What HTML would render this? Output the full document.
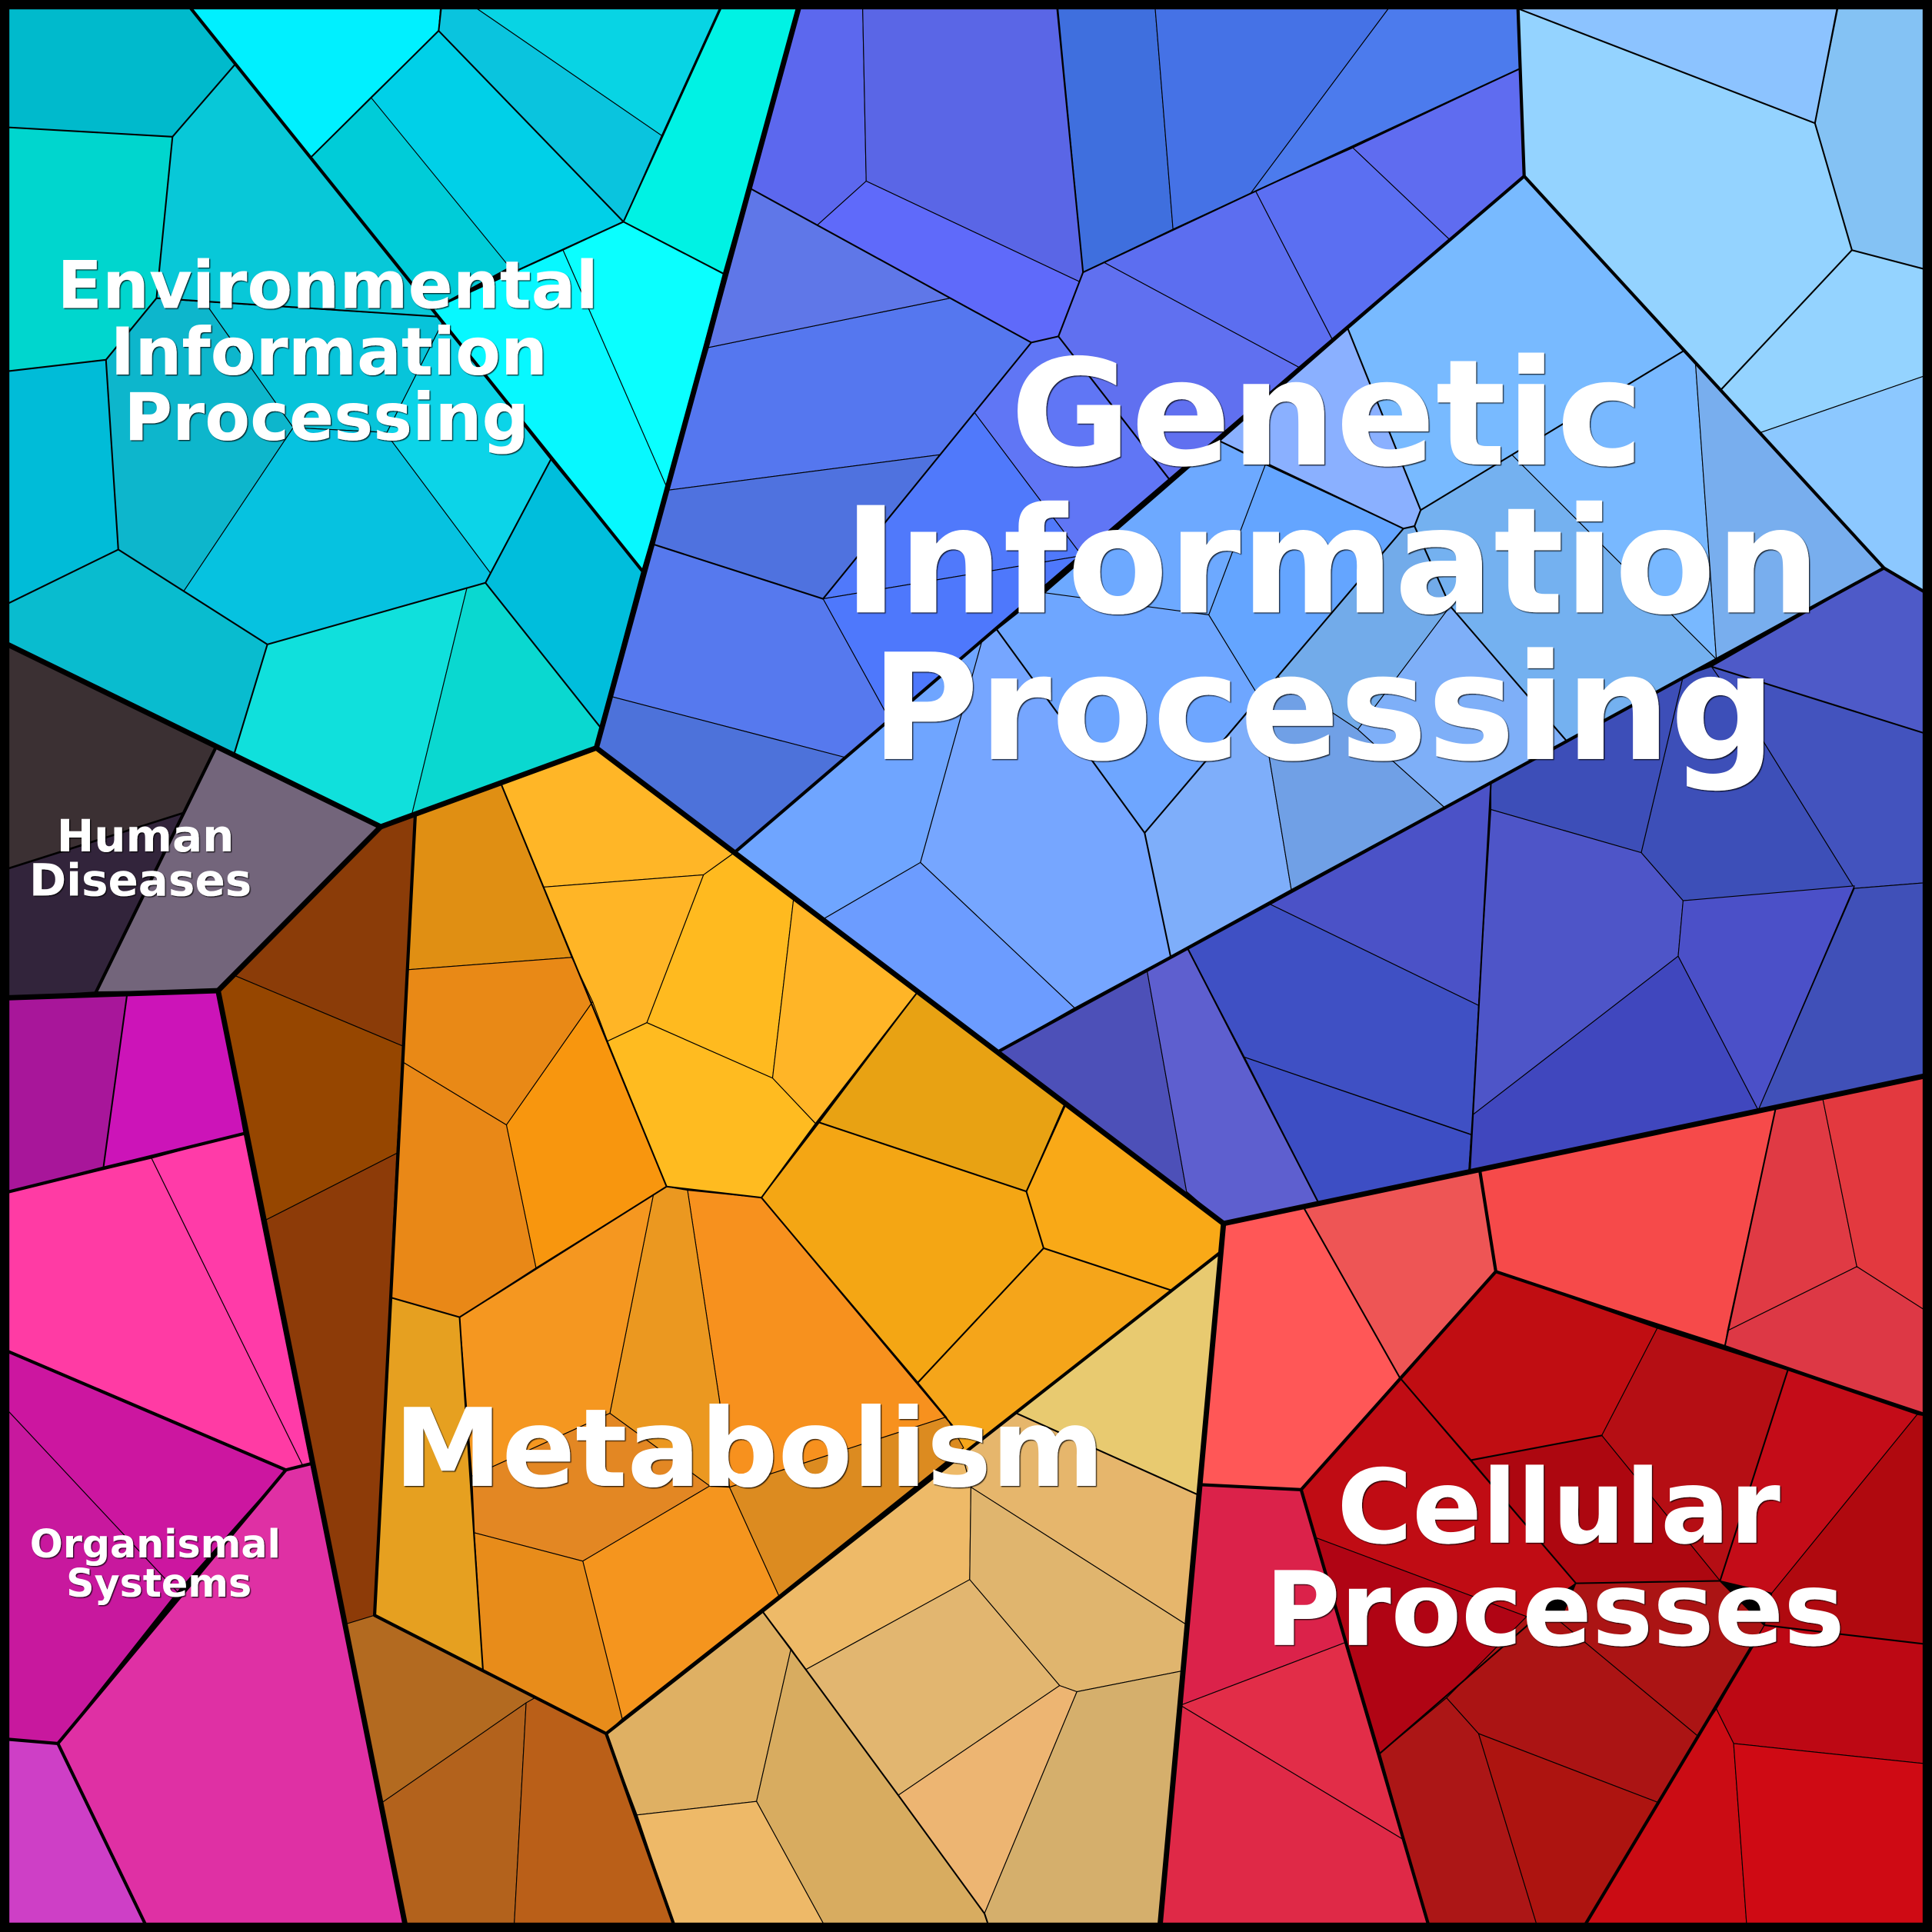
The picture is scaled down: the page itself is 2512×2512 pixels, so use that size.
<!DOCTYPE html>
<html><head><meta charset="utf-8"><style>
html,body{margin:0;padding:0;background:#000}
svg{display:block}
.c polygon{stroke:#000;stroke-width:.7;stroke-linejoin:round}
.m,.h,.f{fill:none;stroke:#000;stroke-linejoin:round;stroke-linecap:round}
.m polyline{stroke-width:1.3}
.h polyline{stroke-width:2.6}
.f polyline{stroke-width:4.3}
text{font-family:"DejaVu Sans","Liberation Sans",sans-serif;font-weight:bold;fill:#fff;text-anchor:middle}
</style></head><body>
<svg xmlns="http://www.w3.org/2000/svg" width="2512" height="2512" viewBox="0 0 1568 1568">
<defs><filter id="s" x="-5%" y="-5%" width="110%" height="110%"><feDropShadow dx="0.8" dy="0.8" stdDeviation="0.4" flood-color="#000" flood-opacity=".8"/></filter></defs>
<rect width="1568" height="1568" fill="#000"/>
<g class="c">
<!-- Env -->
<polygon fill="#00BACC" points="0,0 150,0 191,52 140,111 0,103"/>
<polygon fill="#00D6CE" points="0,103 140,111 127,242 86,292 0,302"/>
<polygon fill="#08C8D8" points="140,111 191,52 355.6,257 127,242"/>
<polygon fill="#00BCD8" points="0,302 86,292 96,446 0,493"/>
<polygon fill="#0DB6CC" points="86,292 127,242 166,245 238,347 149,480 96,446"/>
<polygon fill="#07C4DA" points="166,245 355.6,257 359,262 314,351 238,347"/>
<polygon fill="#06C2E0" points="238,347 314,351 318,358 398,465 394,473 217,523 149,480"/>
<polygon fill="#0CD4E8" points="359,262 447,373 398,465 318,358 314,351"/>
<polygon fill="#00BEDC" points="447,373 521,463 487,590 394,473"/>
<polygon fill="#09BCCF" points="0,493 96,446 217,523 190,612 0,520"/>
<polygon fill="#10E0DC" points="217,523 379,477 334,662 309,671 190,612"/>
<polygon fill="#0AD8D0" points="379,477 394,473 487,590 484,607 334,662"/>
<polygon fill="#00F0FF" points="150,0 358,0 356,25 252,128"/>
<polygon fill="#00CCD8" points="252,128 301,79 417,215 351,251"/>
<polygon fill="#00D0E8" points="301,79 356,25 506,180 417,221"/>
<polygon fill="#0AC4DE" points="356,25 358,0 377,0 537,110 506,180"/>
<polygon fill="#08D4E4" points="377,0 587,0 537,110"/>
<polygon fill="#00F2E4" points="587,0 650,0 587,222 506,180"/>
<polygon fill="#07F8FF" points="351,251 457,203 541,395 521,463"/>
<polygon fill="#0AFFFF" points="457,203 506,180 587,222 541,395"/>
<!-- Top right -->
<polygon fill="#8CC3FF" points="1232,0 1493,0 1473,100 1232,7"/>
<polygon fill="#84C2F4" points="1493,0 1568,0 1568,220 1503,203 1473,100"/>
<polygon fill="#94D3FF" points="1232,7 1473,100 1503,203 1397,316 1237,143"/>
<polygon fill="#94D3FF" points="1503,203 1568,220 1568,303 1429,351 1397,316"/>
<polygon fill="#8CC8FF" points="1429,351 1568,303 1568,484 1529,461"/>
<!-- Light -->
<polygon fill="#78BAFF" points="1237,143 1366,285 1153,414 1094,267"/>
<polygon fill="#8AB0FF" points="1094,267 1153,414 1148,427 1139,429 990,358"/>
<polygon fill="#64A5FF" points="1027,377 1139,429 1037,549 1022,566 981,499"/>
<polygon fill="#6DA9FF" points="990,358 1027,377 981,499 847,482"/>
<polygon fill="#6EA6FF" points="809,511 847,481 981,499 1022,566 929,676"/>
<polygon fill="#6FA5FF" points="596,692 797,520 747,700 668,746"/>
<polygon fill="#76A6FF" points="797,520 809,511 929,676 950,776 872,818 747,700"/>
<polygon fill="#6C9CFF" points="668,746 747,700 872,818 811,853 596,692"/>
<polygon fill="#7EAEFA" points="929,676 1022,566 1048,722 950,776"/>
<polygon fill="#70A0E6" points="1022,566 1037,549 1102,592 1172,655 1048,722"/>
<polygon fill="#72ABEA" points="1139,429 1148,427 1177,492 1102,592 1037,549"/>
<polygon fill="#7EAFF8" points="1177,492 1272,602 1172,655 1102,592"/>
<polygon fill="#74B1F0" points="1153,414 1227,369 1393,535 1272,602 1177,492 1148,427"/>
<polygon fill="#78B8FF" points="1227,369 1366,285 1376,294 1393,535"/>
<polygon fill="#78AEEE" points="1376,294 1529,461 1393,535"/>
<!-- Blue -->
<polygon fill="#5C68EE" points="648,0 700,0 703,147 663,183 609,153"/>
<polygon fill="#5A66E6" points="700,0 858,0 879,221 877,229 703,147"/>
<polygon fill="#5F6AFA" points="663,183 703,147 877,229 859,273 837,278"/>
<polygon fill="#3F6FDE" points="858,0 937,0 952,186 879,221"/>
<polygon fill="#4572E6" points="937,0 1132,0 1015,157 952,186"/>
<polygon fill="#4C7BED" points="1132,0 1232,0 1233,56 1015,157"/>
<polygon fill="#5F6CF0" points="1233,56 1237,143 1176,194 1098,120"/>
<polygon fill="#5B6FF2" points="1019,155 1098,120 1176,194 1081,275"/>
<polygon fill="#5C6EF0" points="879,221 952,186 1019,155 1081,275 1054,298 896,213"/>
<polygon fill="#6070F0" points="879,221 896,213 1054,298 949,389 859,273"/>
<polygon fill="#6076F5" points="837,278 859,273 949,389 878,451 791,335"/>
<polygon fill="#5079FB" points="791,335 878,451 668,486"/>
<polygon fill="#4E78FC" points="668,486 878,451 722,584"/>
<polygon fill="#5577EF" points="575,282 771,242 837,278 763,369 541,398"/>
<polygon fill="#5F77E8" points="609,153 837,278 771,242 575,282"/>
<polygon fill="#4F72DF" points="541,398 763,369 668,486 531,442"/>
<polygon fill="#5679EE" points="531,442 668,486 722,584 687,615 495,565"/>
<polygon fill="#4D72DA" points="495,565 687,615 596,692 484,607"/>
<!-- Dark blue -->
<polygon fill="#4E5AC8" points="1529,461 1568,484 1568,597 1389,541"/>
<polygon fill="#4353BE" points="1389,541 1568,597 1568,716 1505,721 1430,600"/>
<polygon fill="#3D4FB8" points="1366,549 1389,541 1430,600 1505,721 1366,731 1332,692"/>
<polygon fill="#3D4EB8" points="1210,636 1366,549 1332,692 1210,657"/>
<polygon fill="#4B52C7" points="1031,734 1210,636 1200,816"/>
<polygon fill="#3F50C4" points="964,770 1031,734 1200,816 1195,921 1010,858"/>
<polygon fill="#3D4EC4" points="1010,858 1194,921 1192,951 1070,976"/>
<polygon fill="#4E55C8" points="1210,657 1332,692 1366,731 1362,776 1195,905 1200,816"/>
<polygon fill="#4047BE" points="1195,905 1362,776 1427,901 1192,951"/>
<polygon fill="#4B50C8" points="1366,731 1505,719 1427,901 1362,776"/>
<polygon fill="#4050B8" points="1505,721 1568,716 1568,872 1427,901"/>
<polygon fill="#4D50B8" points="811,853 931,788 963,967 993,993"/>
<polygon fill="#5E5FCF" points="931,788 964,770 1070,976 993,993 963,967"/>
<!-- Cellular -->
<polygon fill="#FF5757" points="993,993 1058,980 1136,1118 1056,1209 975,1205"/>
<polygon fill="#EE5555" points="1058,980 1201,950 1214,1032 1136,1118"/>
<polygon fill="#F64A4A" points="1201,950 1441,900 1400,1092 1214,1032"/>
<polygon fill="#E03A44" points="1441,900 1479,890 1507,1028 1402,1080"/>
<polygon fill="#E3393F" points="1479,890 1568,872 1568,1067 1507,1028"/>
<polygon fill="#DD3845" points="1402,1080 1507,1028 1568,1067 1568,1150 1400,1092"/>
<polygon fill="#C00D12" points="1214,1032 1345,1078 1300,1165 1194,1185 1136,1118"/>
<polygon fill="#B50E14" points="1345,1078 1451,1112 1396,1283 1300,1165"/>
<polygon fill="#AD0710" points="1194,1185 1300,1165 1396,1283 1279,1285"/>
<polygon fill="#C00C14" points="1056,1209 1136,1118 1194,1185 1279,1285 1239,1312 1068,1248"/>
<polygon fill="#C40C18" points="1451,1112 1556,1148 1438,1293 1396,1283"/>
<polygon fill="#B0090F" points="1556,1148 1568,1150 1568,1335 1432,1319 1438,1293"/>
<polygon fill="#B00414" points="1068,1248 1239,1312 1174,1378 1120,1423"/>
<polygon fill="#AB1414" points="1279,1285 1396,1283 1432,1319 1422,1336 1378,1409 1266,1316"/>
<polygon fill="#AB1414" points="1239,1312 1266,1316 1378,1409 1346,1463 1200,1407 1174,1378"/>
<polygon fill="#AC1616" points="1174,1378 1200,1407 1249,1568 1161,1568 1120,1423"/>
<polygon fill="#AD1410" points="1200,1407 1346,1463 1283,1568 1249,1568"/>
<polygon fill="#BD0814" points="1422,1336 1432,1319 1568,1335 1568,1432 1407,1415 1393,1387"/>
<polygon fill="#CB0C14" points="1393,1387 1407,1415 1418,1568 1283,1568 1346,1463 1378,1409"/>
<polygon fill="#CF0A14" points="1407,1415 1568,1432 1568,1568 1418,1568"/>
<polygon fill="#DB224A" points="975,1205 1056,1209 1092,1333 958,1384"/>
<polygon fill="#E22D48" points="958,1384 1092,1333 1139,1493"/>
<polygon fill="#DF2947" points="958,1384 1139,1493 1161,1568 941,1568"/>
<!-- Metabolism -->
<polygon fill="#FFB627" points="484,607 407,637 441,720 571,710 596,692"/>
<polygon fill="#FFB526" points="441,720 571,710 525,830 493,845"/>
<polygon fill="#FFBA1F" points="571,710 596,692 644,730 627,875 525,830"/>
<polygon fill="#FFB527" points="644,730 744,806 662,912 627,875"/>
<polygon fill="#FFBB20" points="493,845 525,830 627,875 662,912 618,972 541,963"/>
<polygon fill="#E8A213" points="744,806 864,896 833,967 665,911"/>
<polygon fill="#F9A917" points="864,896 993,993 991,1016 950,1047 847,1013 833,967"/>
<polygon fill="#F4A614" points="665,911 833,967 847,1013 745,1122 618,972"/>
<polygon fill="#F5A51A" points="847,1013 950,1047 991,1016 781,1181 745,1122"/>
<polygon fill="#F7911E" points="558,966 618,972 745,1122 768,1150 592,1207 584,1137"/>
<polygon fill="#EB9820" points="531,966 541,963 558,966 584,1137 592,1207 576,1206 495,1147"/>
<polygon fill="#F59720" points="373,1069 531,966 495,1147 383,1198"/>
<polygon fill="#E38723" points="383,1198 495,1147 576,1206 473,1267 385,1244"/>
<polygon fill="#DC8B20" points="592,1207 768,1150 782,1175 632,1295"/>
<polygon fill="#F5951E" points="473,1267 576,1206 592,1207 632,1295 505,1395"/>
<polygon fill="#E88C1A" points="385,1244 473,1267 505,1395 492,1407 392,1356"/>
<polygon fill="#E6A020" points="317,1053 373,1069 392,1356 304,1311"/>
<polygon fill="#E08F13" points="337,662 407,637 464,777 331,787"/>
<polygon fill="#E98916" points="331,787 464,777 481,813 411,913 327,862"/>
<polygon fill="#F8960E" points="481,813 493,845 541,963 435,1029 411,913"/>
<polygon fill="#E98817" points="327,862 411,913 435,1029 373,1069 317,1053"/>
<polygon fill="#8B3C08" points="309,671 337,662 327,849 191,792 177,804"/>
<polygon fill="#964600" points="177,804 191,792 327,849 322,936 216,990"/>
<polygon fill="#8D3B08" points="216,990 322,936 304,1311 281,1318"/>
<polygon fill="#B36A20" points="281,1318 304,1311 434,1378 310,1463"/>
<polygon fill="#B3621C" points="310,1463 427,1382 417,1568 330,1568"/>
<polygon fill="#BA5F18" points="427,1382 434,1378 492,1407 549,1568 417,1568"/>
<polygon fill="#E8CA70" points="991,1016 972,1213 825,1147"/>
<polygon fill="#E6B66C" points="825,1147 972,1213 962,1318 788,1207 781,1181"/>
<polygon fill="#EEBA68" points="781,1181 788,1207 787,1282 654,1355 619,1308"/>
<polygon fill="#E0B56E" points="788,1207 962,1318 960,1356 874,1373 860,1368 787,1282"/>
<polygon fill="#E2B670" points="654,1355 787,1282 860,1368 729,1457"/>
<polygon fill="#EDB572" points="860,1368 874,1373 799,1553 729,1457"/>
<polygon fill="#D5AF6C" points="874,1373 960,1356 941,1568 804,1568 799,1553"/>
<polygon fill="#DFB063" points="492,1407 619,1308 642,1338 614,1462 517,1473"/>
<polygon fill="#D8AC60" points="642,1338 654,1355 729,1457 799,1553 804,1568 672,1568 614,1462"/>
<polygon fill="#EEB968" points="517,1473 614,1462 672,1568 549,1568"/>
<!-- Human -->
<polygon fill="#3B3033" points="0,520 175,607 148,660 0,707"/>
<polygon fill="#32243B" points="0,707 148,660 78,805 0,810"/>
<polygon fill="#73657B" points="175,607 309,671 177,804 78,805"/>
<!-- Organismal -->
<polygon fill="#A8169A" points="0,810 103,808 84,947 0,969"/>
<polygon fill="#CC14B8" points="103,808 177,804 198,920 84,947"/>
<polygon fill="#FF3BA4" points="0,969 123,940 246,1190 232,1193 0,1094"/>
<polygon fill="#FF3BA8" points="123,940 198,920 252,1188 246,1190"/>
<polygon fill="#CC16A0" points="0,1094 232,1193 144,1292 0,1138"/>
<polygon fill="#C8189E" points="0,1138 144,1292 47,1415 0,1411"/>
<polygon fill="#DF30A4" points="232,1193 252,1188 330,1568 121,1568 47,1415"/>
<polygon fill="#CE3FC6" points="0,1411 47,1415 121,1568 0,1568"/>
</g>
<g class="m">
<polyline points="191,52 140,111 0,103"/>
<polyline points="140,111 127,242 86,292 0,302"/>
<polyline points="86,292 96,446 0,493"/>
<polyline points="96,446 217,523 190,612"/>
<polyline points="217,523 394,473 447,373"/>
<polyline points="394,473 487,590"/>
<polyline points="127,242 355.6,257"/>
<polyline points="351,251 506,180 587,222"/>
<polyline points="252,128 356,25 506,180 585,7"/>
<polyline points="356,25 358,7"/>
<polyline points="858,7 879,221 859,273 837,278 609,153"/>
<polyline points="859,273 949,389"/>
<polyline points="837,278 668,486"/>
<polyline points="879,221 1015,157 1233,56"/>
<polyline points="668,486 531,442"/>
<polyline points="1473,100 1232,7"/>
<polyline points="1491,7 1473,100 1503,203 1568,220"/>
<polyline points="1503,203 1397,316"/>
<polyline points="990,358 1139,429 1148,427 1153,414 1094,267"/>
<polyline points="1153,414 1366,285"/>
<polyline points="1139,429 929,676 809,511"/>
<polyline points="929,676 950,776"/>
<polyline points="1148,427 1177,492 1272,602"/>
<polyline points="1210,636 1193,950"/>
<polyline points="964,770 1070,976"/>
<polyline points="1389,541 1568,597"/>
<polyline points="407,637 541,963 618,972 662,912 744,806"/>
<polyline points="618,972 773,1157"/>
<polyline points="865,896 833,967 847,1013 950,1047"/>
<polyline points="847,1013 745,1122"/>
<polyline points="665,911 833,967"/>
<polyline points="373,1069 541,963"/>
<polyline points="373,1069 317,1053"/>
<polyline points="373,1069 392,1356"/>
<polyline points="619,1308 654,1355 729,1457 799,1553 804,1568"/>
<polyline points="825,1147 972,1213"/>
<polyline points="1194,1185 1300,1165"/>
<polyline points="1136,1118 1279,1285 1396,1283 1451,1112"/>
<polyline points="1279,1285 1120,1423"/>
<polyline points="1396,1283 1432,1319 1568,1335"/>
<polyline points="1400,1092 1441,900"/>
<polyline points="1058,980 1136,1118"/>
<polyline points="103,808 84,947"/>
</g>
<g class="h">
<polyline points="1232,7 1237,143 1529,461 1568,484"/>
<polyline points="1237,143 596,692"/>
<polyline points="811,853 1529,461"/>
<polyline points="155,7 521,463"/>
<polyline points="991,1016 492,1407 304,1311 337,662"/>
<polyline points="492,1407 549,1568"/>
<polyline points="975,1205 1056,1209 1161,1568"/>
<polyline points="1056,1209 1214,1032 1568,1150"/>
<polyline points="1201,950 1214,1032"/>
<polyline points="1422,1336 1283,1568"/>
<polyline points="175,607 78,805"/>
<polyline points="0,969 198,920"/>
<polyline points="0,1094 232,1193 252,1188"/>
<polyline points="232,1193 47,1415 0,1411"/>
<polyline points="47,1415 121,1568"/>
</g>
<g class="m"><polyline points="148,660 0,707" style="stroke-width:1.6"/></g>
<g class="f">
<polyline points="648,7 484,607"/>
<polyline points="0,520 309,671 484,607 993,993 941,1568"/>
<polyline points="993,993 1568,872"/>
<polyline points="309,671 177,804 330,1568"/>
<polyline points="0,810 177,804"/>
</g>
<rect x="3.8" y="3.8" width="1560.4" height="1560.4" fill="none" stroke="#000" stroke-width="7.6"/>
<g filter="url(#s)">
<text font-size="119.5" x="1077" y="377">Genetic</text>
<text font-size="119.5" x="1081" y="497">Information</text>
<text font-size="119.5" x="1074" y="616">Processing</text>
<text font-size="53.5" x="266" y="250">Environmental</text>
<text font-size="53.5" x="267" y="304">Information</text>
<text font-size="53.5" x="265" y="357">Processing</text>
<text font-size="36.2" x="118" y="691">Human</text>
<text font-size="36.2" x="114" y="727">Diseases</text>
<text font-size="31.6" x="126" y="1264">Organismal</text>
<text font-size="31.6" x="129" y="1296">Systems</text>
<text font-size="88" x="608" y="1206">Metabolism</text>
<text font-size="83.3" x="1265" y="1252">Cellular</text>
<text font-size="83.3" x="1262" y="1335">Processes</text>
</g>
</svg>
</body></html>
